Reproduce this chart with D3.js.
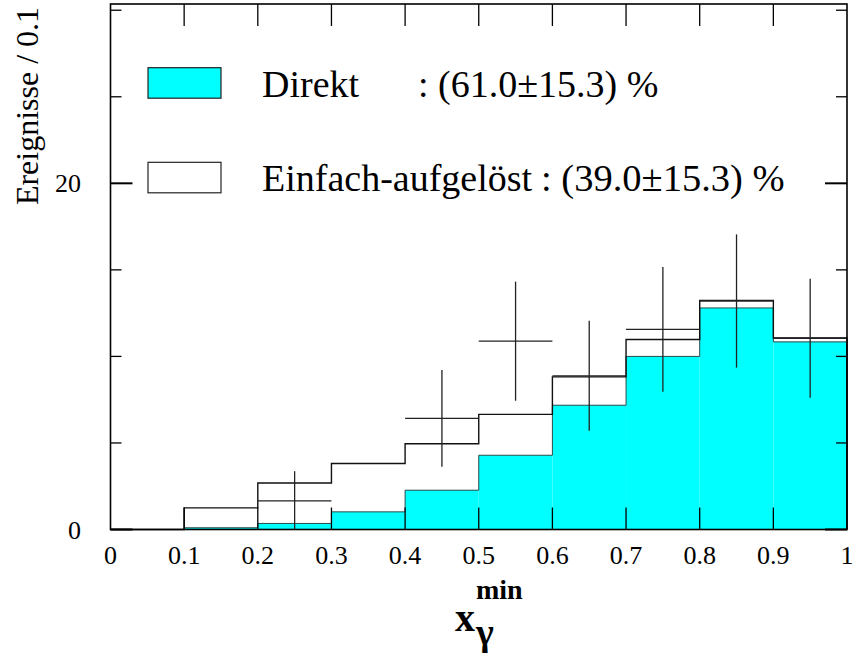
<!DOCTYPE html>
<html>
<head>
<meta charset="utf-8">
<script src="https://cdn.jsdelivr.net/npm/d3@7"></script>
<style>
  html, body { margin: 0; padding: 0; background: #fff; }
  svg { display: block; }
  text { font-family: "Liberation Serif", "Times New Roman", serif; fill: #000; }
</style>
</head>
<body>
<svg id="chart" width="852" height="655"></svg>
<script>
// ---- data ----
const binEdges = [0, 0.1, 0.2, 0.3, 0.4, 0.5, 0.6, 0.7, 0.8, 0.9, 1.0];
const direkt = [0, 0.1, 0.35, 1.02, 2.27, 4.29, 7.18, 10.0, 12.8, 10.84];
const total  = [0, 1.25, 2.69, 3.81, 4.95, 6.65, 8.82, 10.98, 13.24, 11.06];
const dataX   = [0.25, 0.45, 0.55, 0.65, 0.75, 0.85, 0.95];
const dataY   = [1.65, 6.42, 10.88, 8.88, 11.56, 13.2, 11.05];
const dataErr = [1.72, 2.8, 3.44, 3.18, 3.6, 3.85, 3.44];
const xTickValues = [0, 0.1, 0.2, 0.3, 0.4, 0.5, 0.6, 0.7, 0.8, 0.9, 1];
const xTickLabels = ["0", "0.1", "0.2", "0.3", "0.4", "0.5", "0.6", "0.7", "0.8", "0.9", "1"];
const yMajorTicks = [0, 20];
const yMinorTicks = [5, 10, 15, 25, 30];
const legendLabels = ["Direkt", "Einfach-aufgelöst"];
const legendValues = [": (61.0\u00b115.3) %", ": (39.0\u00b115.3) %"];
const yLabel = "Ereignisse / 0.1";

// ---- layout ----
const svg = d3.select("#chart");
const L = 110.5, R = 847, T = 4, B = 529.5;
const x = d3.scaleLinear().domain([0, 1]).range([L, R]);
const y = d3.scaleLinear().domain([0, 30.36]).range([B, T]);
const CYAN = "#00ffff";
const bins = direkt.map((d, i) => ({ x0: binEdges[i], x1: binEdges[i + 1], direkt: d, total: total[i] }));

// cyan bars
svg.append("g").selectAll("rect").data(bins).join("rect")
  .attr("x", d => x(d.x0)).attr("width", d => x(d.x1) - x(d.x0))
  .attr("y", d => y(d.direkt)).attr("height", d => y(0) - y(d.direkt))
  .attr("fill", CYAN);

function stepPath(vals) {
  const p = d3.path();
  p.moveTo(x(binEdges[0]), y(0));
  vals.forEach((v, i) => {
    p.lineTo(x(binEdges[i]), y(v));
    p.lineTo(x(binEdges[i + 1]), y(v));
  });
  p.lineTo(x(binEdges[binEdges.length - 1]), y(0));
  return p.toString();
}
svg.append("path").attr("d", stepPath(direkt)).attr("fill", "none")
  .attr("stroke", "#2a4a4a").attr("stroke-width", 1);
svg.append("path").attr("d", stepPath(total)).attr("fill", "none")
  .attr("stroke", "#111").attr("stroke-width", 1.4);

// data crosses
const pts = dataX.map((v, i) => ({ x: v, y: dataY[i], e: dataErr[i] }));
const cg = svg.append("g").attr("stroke", "#222").attr("stroke-width", 1.3);
cg.selectAll("line.h").data(pts).join("line").attr("class", "h")
  .attr("x1", d => x(d.x - 0.05)).attr("x2", d => x(d.x + 0.05))
  .attr("y1", d => y(d.y)).attr("y2", d => y(d.y));
cg.selectAll("line.v").data(pts).join("line").attr("class", "v")
  .attr("x1", d => x(d.x)).attr("x2", d => x(d.x))
  .attr("y1", d => y(Math.max(0, d.y - d.e))).attr("y2", d => y(d.y + d.e));

// axes ticks (inward)
const axg = svg.append("g").attr("stroke", "#000").attr("stroke-width", 1.3);
const innerX = xTickValues.filter(v => v > 0 && v < 1);
axg.selectAll("line.bt").data(innerX).join("line")
  .attr("x1", d => x(d)).attr("x2", d => x(d)).attr("y1", B).attr("y2", B - 22);
axg.selectAll("line.tt").data(innerX).join("line")
  .attr("x1", d => x(d)).attr("x2", d => x(d)).attr("y1", T).attr("y2", T + 22);
axg.selectAll("line.lM").data(yMajorTicks).join("line")
  .attr("x1", L).attr("x2", L + 22).attr("y1", d => y(d)).attr("y2", d => y(d)).attr("stroke-width", 2);
axg.selectAll("line.rM").data(yMajorTicks).join("line")
  .attr("x1", R).attr("x2", R - 22).attr("y1", d => y(d)).attr("y2", d => y(d)).attr("stroke-width", 2);
axg.selectAll("line.lm").data(yMinorTicks).join("line")
  .attr("x1", L).attr("x2", L + 11).attr("y1", d => y(d)).attr("y2", d => y(d));
axg.selectAll("line.rm").data(yMinorTicks).join("line")
  .attr("x1", R).attr("x2", R - 11).attr("y1", d => y(d)).attr("y2", d => y(d));

// frame
svg.append("rect").attr("x", L).attr("y", T).attr("width", R - L).attr("height", B - T)
  .attr("fill", "none").attr("stroke", "#000").attr("stroke-width", 1.6);

// tick labels
svg.append("g").selectAll("text").data(xTickValues).join("text")
  .attr("x", d => x(d)).attr("y", 564).attr("text-anchor", "middle")
  .attr("font-size", 26).text((d, i) => xTickLabels[i]);
svg.append("g").selectAll("text").data(yMajorTicks).join("text")
  .attr("x", 81).attr("y", d => y(d) + 9).attr("text-anchor", "end")
  .attr("font-size", 26).text(d => d);

// y label
svg.append("text").attr("transform", `translate(38,106) rotate(-90)`)
  .attr("text-anchor", "middle").attr("font-size", 32).text(yLabel);

// x label
svg.append("text").attr("x", 476).attr("y", 599).attr("font-size", 28).attr("font-weight", "bold").text("min");
svg.append("text").attr("x", 455).attr("y", 631).attr("font-size", 40).attr("font-weight", "bold").text("x");
svg.append("text").attr("x", 476).attr("y", 645).attr("font-size", 38).attr("font-weight", "bold").text("\u03b3");

// legend
const lg = svg.append("g");
const legY = [67.7, 162.3];
lg.selectAll("rect").data(legendLabels).join("rect")
  .attr("x", 148).attr("y", (d, i) => legY[i]).attr("width", 73).attr("height", 30.5)
  .attr("fill", (d, i) => i === 0 ? CYAN : "#fff").attr("stroke", "#222").attr("stroke-width", 1.2);
lg.selectAll("text.lab").data(legendLabels).join("text").attr("class", "lab")
  .attr("x", 262).attr("y", (d, i) => legY[i] + 29).attr("font-size", 38).text(d => d);
lg.append("text").attr("x", 418).attr("y", legY[0] + 29).attr("font-size", 38).text(legendValues[0]);
lg.append("text").attr("x", 541).attr("y", legY[1] + 29).attr("font-size", 38.5).text(legendValues[1]);
</script>
</body>
</html>
